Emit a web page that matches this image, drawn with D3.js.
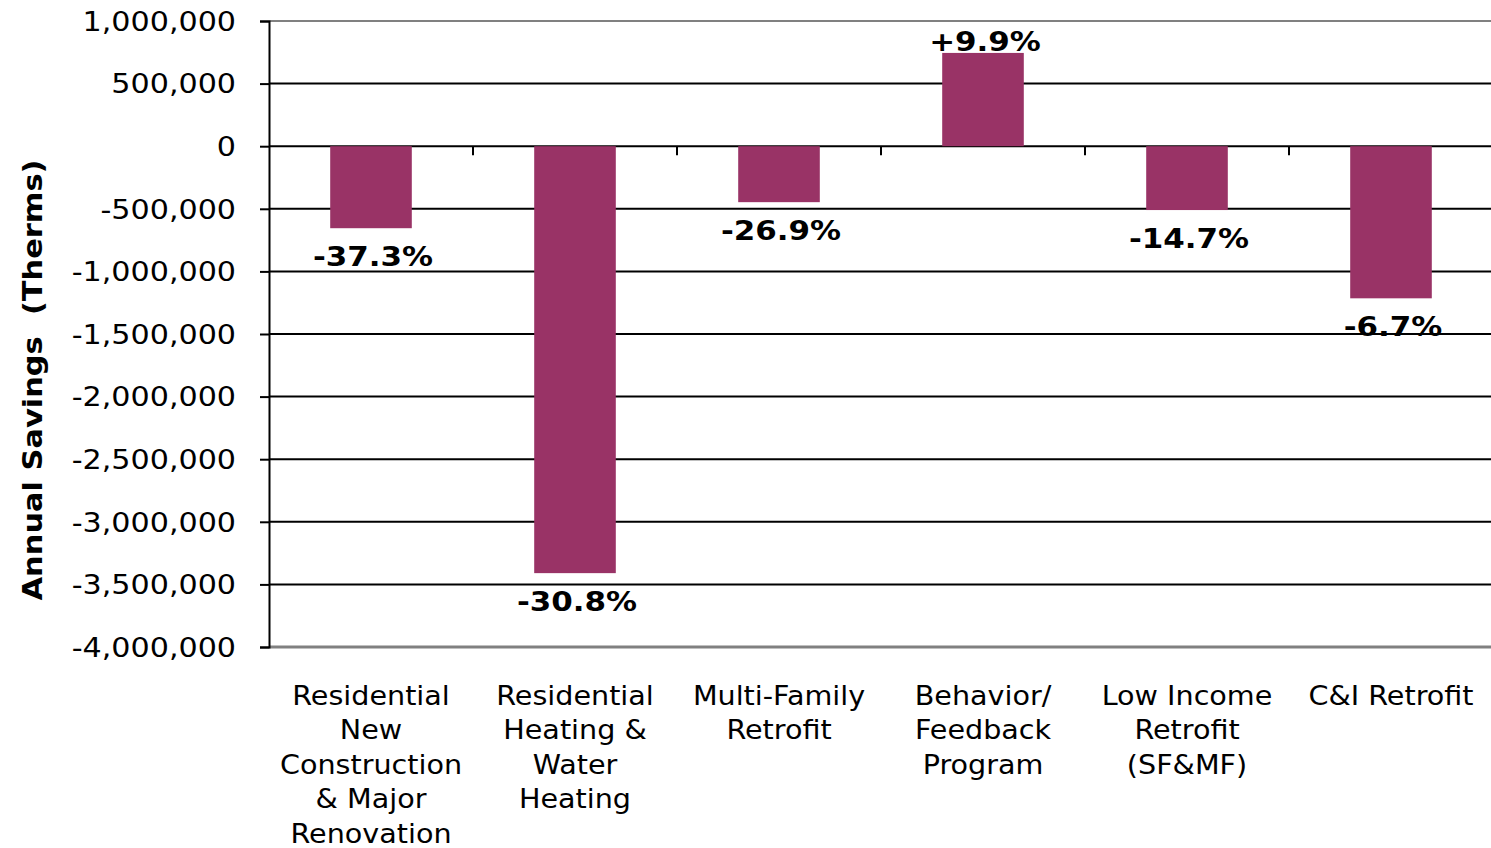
<!DOCTYPE html>
<html>
<head>
<meta charset="utf-8">
<script src="https://cdn.jsdelivr.net/npm/d3@7"></script>
<style>
  body { margin: 0; background: #fff; }
  svg { display: block; font-family: "DejaVu Sans", Verdana, sans-serif; }
</style>
</head>
<body>
<svg id="chart"></svg>
<script>
// data
const programs = [
  ["Residential", "New", "Construction", "& Major", "Renovation"],
  ["Residential", "Heating &", "Water", "Heating"],
  ["Multi-Family", "Retrofit"],
  ["Behavior/", "Feedback", "Program"],
  ["Low Income", "Retrofit", "(SF&MF)"],
  ["C&I Retrofit"]
];
const savings = [-655000, -3410000, -447000, 745000, -510000, -1215000];
const changeLabels = ["-37.3%", "-30.8%", "-26.9%", "+9.9%", "-14.7%", "-6.7%"];
const yTicks = [1000000, 500000, 0, -500000, -1000000, -1500000, -2000000,
  -2500000, -3000000, -3500000, -4000000];

const W = 1491, H = 848;
const margin = { top: 21, bottom: 201, left: 269, right: -2 };
const barColor = '#993366';

let svg = d3.select('#chart')
  .attr('width', W)
  .attr('height', H);

let x = d3.scaleBand()
  .domain(d3.range(programs.length))
  .range([margin.left, W - margin.right])
  .paddingInner(0.6)
  .paddingOuter(0.3);

let y = d3.scaleLinear()
  .domain([-4000000, 1000000])
  .range([H - margin.bottom, margin.top]);

// excel style: plain hyphen for negatives
let fmt = d => d3.format(',')(d).replace('\u2212', '-');

// gridlines
svg.append('g')
  .selectAll('line')
  .data(yTicks)
  .join('line')
  .attr('x1', margin.left)
  .attr('x2', W)
  .attr('y1', d => y(d))
  .attr('y2', d => y(d))
  .attr('stroke', d => (d == 1000000 || d == -4000000) ? '#808080' : '#000')
  .attr('stroke-width', d => d == -4000000 ? 3 : 2);

// y axis
let yAxis = svg.append('g')
  .attr('transform', `translate(${margin.left},0)`)
  .call(d3.axisLeft(y).tickValues(yTicks).tickSize(9).tickFormat(fmt));

yAxis.select('.domain').attr('stroke', '#000').attr('stroke-width', 2);
yAxis.selectAll('.tick line').attr('stroke', '#000').attr('stroke-width', 2);
yAxis.selectAll('.tick text')
  .attr('x', 0)
  .attr('dy', '0.36em')
  .attr('transform', 'translate(-33,0) scale(1.16,1)')
  .attr('font-size', 26)
  .attr('font-family', '"DejaVu Sans", Verdana, sans-serif')
  .attr('fill', '#000');

// category ticks on the zero line
svg.append('g')
  .selectAll('line')
  .data(d3.range(1, programs.length))
  .join('line')
  .attr('x1', i => x(i) - x.step() * x.paddingInner() / 2)
  .attr('x2', i => x(i) - x.step() * x.paddingInner() / 2)
  .attr('y1', y(0))
  .attr('y2', y(0) + 9)
  .attr('stroke', '#000')
  .attr('stroke-width', 2);

// bars
svg.append('g')
  .selectAll('rect')
  .data(savings)
  .join('rect')
  .attr('x', (d, i) => x(i))
  .attr('width', x.bandwidth())
  .attr('y', d => y(Math.max(0, d)))
  .attr('height', d => Math.abs(y(d) - y(0)))
  .attr('fill', barColor);

// change labels
svg.append('g')
  .selectAll('text')
  .data(savings)
  .join('text')
  .attr('transform', (d, i) => {
    let ty = d < 0 ? y(d) + 38 : y(d) - 2;
    return `translate(${x(i) + x.bandwidth() / 2 + 2},${ty}) scale(1.19,1)`;
  })
  .attr('text-anchor', 'middle')
  .attr('font-size', 26)
  .attr('font-weight', 'bold')
  .attr('fill', '#000')
  .text((d, i) => changeLabels[i]);

// category labels
let cats = svg.append('g')
  .selectAll('text')
  .data(programs)
  .join('text')
  .attr('transform', (d, i) => `translate(${x(i) + x.bandwidth() / 2},705) scale(1.1,1)`)
  .attr('text-anchor', 'middle')
  .attr('font-size', 26)
  .attr('fill', '#000');

cats.selectAll('tspan')
  .data(d => d)
  .join('tspan')
  .attr('x', 0)
  .attr('y', (d, j) => j * 34.5)
  .text(d => d);

// y axis title
svg.append('text')
  .attr('transform', 'translate(42,380) rotate(-90) scale(1.17,1)')
  .attr('text-anchor', 'middle')
  .attr('font-size', 26)
  .attr('font-weight', 'bold')
  .attr('fill', '#000')
  .style('white-space', 'pre')
  .text('Annual Savings  (Therms)');
</script>
</body>
</html>
